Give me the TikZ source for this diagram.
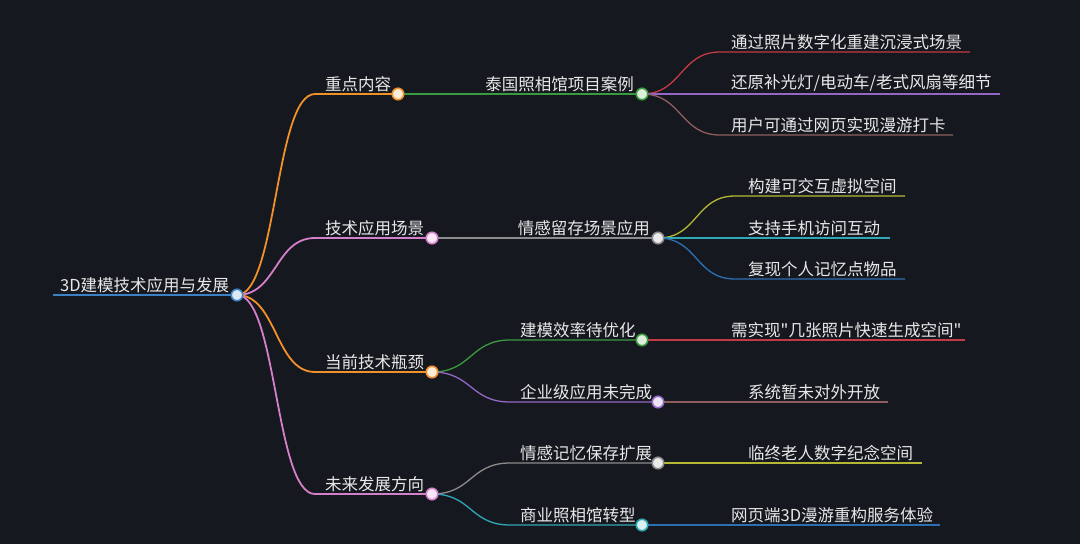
\documentclass[tikz,border=0pt]{standalone}
\usepackage{fontspec}
\setmainfont{Noto Sans CJK SC}
\newfontfamily\cjkfont{Noto Sans CJK SC}
\definecolor{bgc}{HTML}{16181F}
\definecolor{txt}{HTML}{E8E8E8}
\definecolor{cRoot}{HTML}{3B82C4}
\definecolor{cOrange}{HTML}{F0912A}
\definecolor{cPink}{HTML}{D57FCB}
\definecolor{cGreen}{HTML}{3A9A3F}
\definecolor{cGrey}{HTML}{8C8C8C}
\definecolor{cRed}{HTML}{C23A45}
\definecolor{cPurple}{HTML}{9367C6}
\definecolor{cBrown}{HTML}{8E5E5E}
\definecolor{cOlive}{HTML}{B5B835}
\definecolor{cTeal}{HTML}{2FA7B5}
\definecolor{cBlue}{HTML}{2C6FB3}
\pgfdeclarelayer{back}
\pgfdeclarelayer{lines}
\pgfsetlayers{back,lines,main}
\begin{document}
\begin{tikzpicture}[x=1pt,y=-1pt,
  lbl/.style={text=txt,font=\cjkfont\fontsize{16.5}{17}\selectfont,inner sep=0pt,anchor=south west},
  lble/.style={lbl,anchor=south east},
  dot/.style={circle,draw=#1,line width=1.6pt,fill=#1!18!white,minimum size=11.5pt,inner sep=0pt},
  br/.style={draw=#1,line width=1.8pt},
  lf/.style={draw=#1,line width=1.3pt}]
\begin{pgfonlayer}{back}
\fill[bgc] (0,0) rectangle (1080,544);
\end{pgfonlayer}
\useasboundingbox (0,0) rectangle (1080,544);
% root
\coordinate (r0) at (53,295);
\node[dot=cRoot] (r) at (237,295) {};
\node[lbl] (rt) at (60,293) {3D建模技术应用与发展};
% level 1
\coordinate (k1s) at (315,94);  \node[dot=cOrange] (k1) at (398,94) {};  \node[lbl] (k1t) at (325,92) {重点内容};
\coordinate (k2s) at (315,238); \node[dot=cPink] (k2) at (432,238) {};   \node[lbl] (k2t) at (325,236) {技术应用场景};
\coordinate (k3s) at (315,372); \node[dot=cOrange] (k3) at (432,372) {}; \node[lbl] (k3t) at (325,370) {当前技术瓶颈};
\coordinate (k4s) at (315,494); \node[dot=cPink] (k4) at (432,494) {};   \node[lbl] (k4t) at (325,492) {未来发展方向};
% level 2
\node[dot=cGreen] (m1) at (642,94) {};  \node[lble] (m1t) at (634,92) {泰国照相馆项目案例};
\node[dot=cGrey] (m2) at (658,238) {};  \node[lble] (m2t) at (650,236) {情感留存场景应用};
\coordinate (m3s) at (510,340); \node[dot=cGreen] (m3) at (642,340) {};  \node[lbl] (m3t) at (520,338) {建模效率待优化};
\coordinate (m4s) at (510,402); \node[dot=cPurple] (m4) at (658,402) {}; \node[lbl] (m4t) at (520,400) {企业级应用未完成};
\coordinate (m5s) at (510,463); \node[dot=cGrey] (m5) at (658,463) {};   \node[lbl] (m5t) at (520,461) {情感记忆保存扩展};
\coordinate (m6s) at (510,525); \node[dot=cTeal] (m6) at (642,525) {};   \node[lbl] (m6t) at (520,523) {商业照相馆转型};
% level 3
\coordinate (l1s) at (720,52);  \coordinate (l1) at (970,52);  \node[lbl] (l1t) at (731,50) {通过照片数字化重建沉浸式场景};
\coordinate (l2) at (1000,94);  \node[lbl] (l2t) at (731,92) {还原补光灯/电动车/老式风扇等细节};
\coordinate (l3s) at (720,135); \coordinate (l3) at (953,135); \node[lbl] (l3t) at (731,133) {用户可通过网页实现漫游打卡};
\coordinate (l4s) at (735,196); \coordinate (l4) at (905,196); \node[lbl] (l4t) at (748,194) {构建可交互虚拟空间};
\coordinate (l5) at (890,238);  \node[lbl] (l5t) at (748,236) {支持手机访问互动};
\coordinate (l6s) at (735,279); \coordinate (l6) at (905,279); \node[lbl] (l6t) at (748,277) {复现个人记忆点物品};
\coordinate (l7) at (965,340);  \node[lbl] (l7t) at (731,338) {需实现"几张照片快速生成空间"};
\coordinate (l8) at (888,402);  \node[lbl] (l8t) at (748,400) {系统暂未对外开放};
\coordinate (l9) at (922,463);  \node[lbl] (l9t) at (748,461) {临终老人数字纪念空间};
\coordinate (l10) at (940,525); \node[lbl] (l10t) at (731,523) {网页端3D漫游重构服务体验};
\begin{pgfonlayer}{lines}
\draw[br=cRoot] (r0) -- (r.center);
\draw[br=cOrange] (r.center) .. controls +(40,0) and +(-40,0) .. (k1s) -- (k1.center);
\draw[br=cPink] (r.center) .. controls +(40,0) and +(-40,0) .. (k2s) -- (k2.center);
\draw[br=cOrange] (r.center) .. controls +(40,0) and +(-40,0) .. (k3s) -- (k3.center);
\draw[br=cPink] (r.center) .. controls +(40,0) and +(-40,0) .. (k4s) -- (k4.center);
\draw[lf=cGreen] (k1.center) -- (m1.center);
\draw[lf=cGrey] (k2.center) -- (m2.center);
\draw[lf=cGreen] (k3.center) .. controls +(40,0) and +(-40,0) .. (m3s) -- (m3.center);
\draw[lf=cPurple] (k3.center) .. controls +(40,0) and +(-40,0) .. (m4s) -- (m4.center);
\draw[lf=cGrey] (k4.center) .. controls +(40,0) and +(-40,0) .. (m5s) -- (m5.center);
\draw[lf=cTeal] (k4.center) .. controls +(40,0) and +(-40,0) .. (m6s) -- (m6.center);
\draw[lf=cRed] (m1.center) .. controls +(40,0) and +(-40,0) .. (l1s) -- (l1);
\draw[lf=cPurple] (m1.center) -- (l2);
\draw[lf=cBrown] (m1.center) .. controls +(40,0) and +(-40,0) .. (l3s) -- (l3);
\draw[lf=cOlive] (m2.center) .. controls +(40,0) and +(-40,0) .. (l4s) -- (l4);
\draw[lf=cTeal] (m2.center) -- (l5);
\draw[lf=cBlue] (m2.center) .. controls +(40,0) and +(-40,0) .. (l6s) -- (l6);
\draw[lf=cRed] (m3.center) -- (l7);
\draw[lf=cBrown] (m4.center) -- (l8);
\draw[lf=cOlive] (m5.center) -- (l9);
\draw[lf=cBlue] (m6.center) -- (l10);
\end{pgfonlayer}
\end{tikzpicture}
\end{document}
